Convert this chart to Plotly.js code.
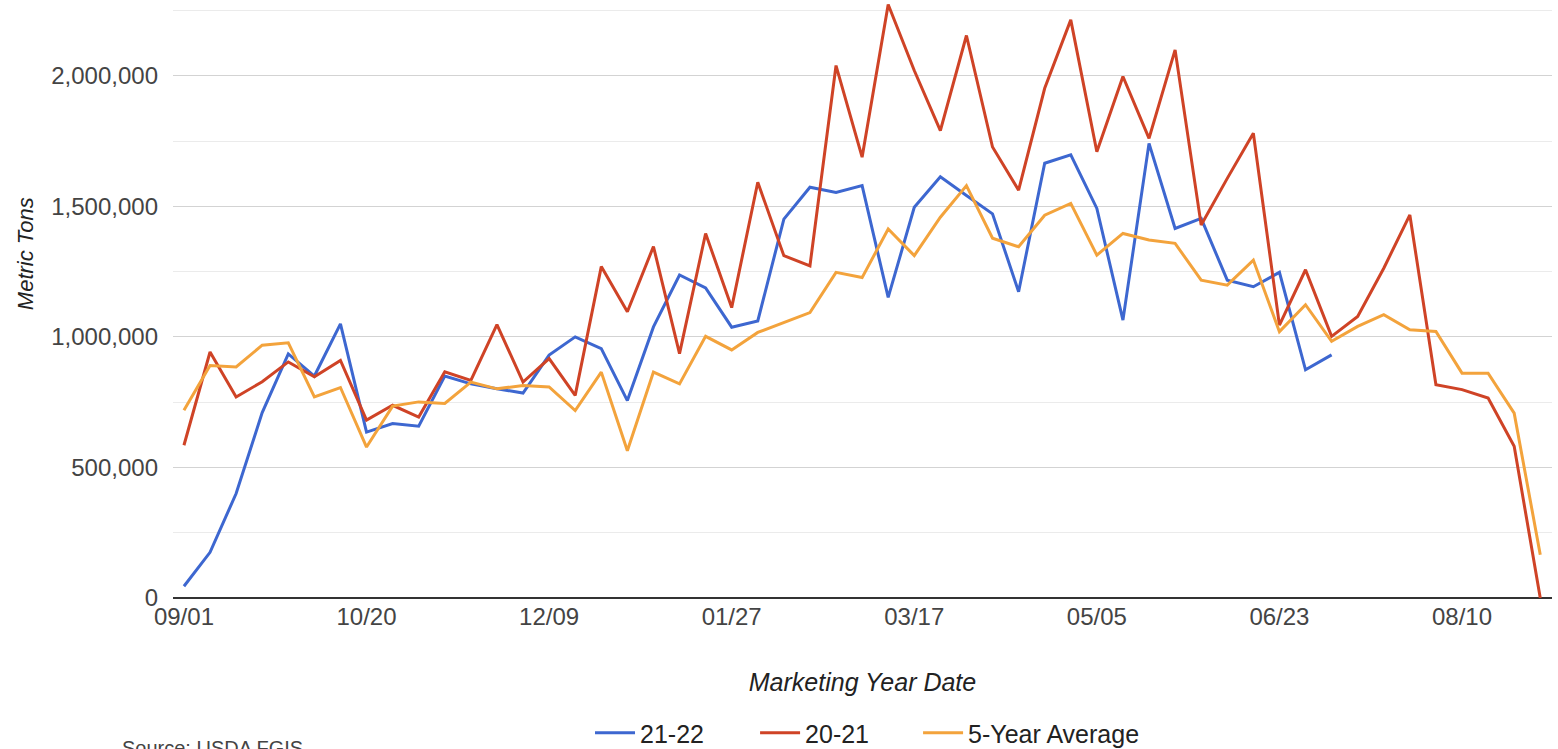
<!DOCTYPE html>
<html>
<head>
<meta charset="utf-8">
<script src="https://cdn.plot.ly/plotly-3.0.1.min.js"></script>
<style>html,body{margin:0;padding:0;background:#fff;}#chart{width:1558px;height:749px;}</style>
</head>
<body>
<div id="chart"></div>
<script>
const weeks = ["09/01","09/08","09/15","09/22","09/29","10/06","10/13","10/20","10/27","11/03",
  "11/10","11/17","11/24","12/02","12/09","12/16","12/23","12/30","01/06","01/13",
  "01/20","01/27","02/03","02/10","02/17","02/24","03/03","03/10","03/17","03/24",
  "03/31","04/07","04/14","04/21","04/28","05/05","05/12","05/19","05/26","06/02",
  "06/09","06/16","06/23","06/30","07/07","07/14","07/21","07/28","08/04","08/10",
  "08/17","08/24","08/31"];

const tickLabels = ["09/01","10/20","12/09","01/27","03/17","05/05","06/23","08/10"];

const y2122 = [45000,175000,400000,710000,935000,850000,1050000,635000,668000,658000,
  850000,820000,801000,785000,930000,1000000,955000,756000,1038000,1237000,
  1187000,1037000,1061000,1451000,1573000,1553000,1579000,1151000,1496000,1613000,
  1541000,1471000,1173000,1665000,1697000,1492000,1064000,1741000,1415000,1454000,
  1217000,1192000,1247000,874000,931000];

const y2021 = [585000,942000,770000,828000,904000,847000,910000,681000,738000,693000,
  866000,833000,1047000,827000,917000,776000,1269000,1096000,1346000,936000,
  1396000,1112000,1592000,1311000,1272000,2039000,1688000,2273000,2020000,1790000,
  2154000,1727000,1562000,1952000,2214000,1709000,1997000,1760000,2099000,1428000,
  1607000,1780000,1045000,1257000,1002000,1078000,1263000,1467000,817000,798000,
  766000,581000,0];

const yAvg = [719000,890000,885000,968000,977000,770000,806000,578000,735000,751000,
  745000,827000,801000,814000,808000,718000,865000,564000,865000,820000,
  1002000,950000,1017000,1055000,1093000,1247000,1227000,1413000,1311000,1458000,
  1579000,1378000,1345000,1466000,1511000,1313000,1396000,1371000,1358000,1217000,
  1198000,1294000,1020000,1123000,983000,1040000,1085000,1027000,1021000,861000,
  861000,708000,166000];

const seriesNames = ["21-22","20-21","5-Year Average"];
const colors = ["#3d67d0","#cf4326","#f3a33c"];
const legendIds = ["legend","legend2","legend3"];

const FONT = "Liberation Sans, Arial, sans-serif";

const traces = [y2122, y2021, yAvg].map((ys, i) => ({
  type: "scatter",
  mode: "lines",
  name: seriesNames[i],
  legend: legendIds[i],
  x: weeks.slice(0, ys.length),
  y: ys,
  line: {color: colors[i], width: 3},
  hoverinfo: "x+y+name"
}));

function legendAt(xp) {
  return {
    orientation: "h",
    x: xp, xanchor: "left", xref: "paper",
    y: -0.2258, yanchor: "middle",
    font: {family: FONT, size: 25, color: "#222222"},
    itemwidth: 40,
    bgcolor: "rgba(0,0,0,0)"
  };
}

const layout = {
  width: 1558,
  height: 749,
  paper_bgcolor: "#ffffff",
  plot_bgcolor: "#ffffff",
  margin: {l: 173, r: 6, t: 0, b: 151, autoexpand: false},
  font: {family: FONT, size: 24, color: "#444444"},
  showlegend: true,
  legend: legendAt(0.3024),
  legend2: legendAt(0.4221),
  legend3: legendAt(0.5403),
  xaxis: {
    type: "category",
    categoryorder: "array",
    categoryarray: weeks,
    range: [-0.42, 52.45],
    tickmode: "array",
    tickvals: tickLabels,
    ticktext: tickLabels,
    ticks: "",
    showgrid: false,
    zeroline: false,
    showline: false,
    automargin: false,
    tickfont: {family: FONT, size: 24, color: "#444444"},
    ticklabelstandoff: 2,
    title: {
      text: "Marketing Year Date",
      font: {family: FONT, size: 25, color: "#222222", style: "italic"},
      standoff: 44
    }
  },
  yaxis: {
    range: [0, 2290000],
    tickmode: "array",
    tickvals: [0, 500000, 1000000, 1500000, 2000000],
    ticktext: ["0", "500,000", "1,000,000", "1,500,000", "2,000,000"],
    ticks: "",
    showgrid: true,
    gridcolor: "#d3d3d3",
    gridwidth: 1,
    minor: {
      tickmode: "array",
      tickvals: [250000, 750000, 1250000, 1750000, 2250000],
      showgrid: true,
      gridcolor: "#ebebeb",
      gridwidth: 1
    },
    zeroline: true,
    zerolinecolor: "#333333",
    zerolinewidth: 1.5,
    showline: false,
    automargin: false,
    tickfont: {family: FONT, size: 24, color: "#444444"},
    ticklabelstandoff: 14,
    title: {text: ""}
  },
  annotations: [
    {
      text: "Metric Tons",
      textangle: -90,
      xref: "paper", yref: "paper",
      x: -0.1073, y: 0.575,
      xanchor: "center", yanchor: "middle",
      showarrow: false,
      font: {family: FONT, size: 22, color: "#222222", style: "italic"}
    },
    {
      text: "Source: USDA FGIS",
      xref: "paper", yref: "paper",
      x: -0.0384, y: -0.229,
      xanchor: "left", yanchor: "top",
      showarrow: false,
      font: {family: FONT, size: 20, color: "#444444"}
    }
  ]
};

Plotly.newPlot("chart", traces, layout, {displayModeBar: false, staticPlot: true});
</script>
</body>
</html>
